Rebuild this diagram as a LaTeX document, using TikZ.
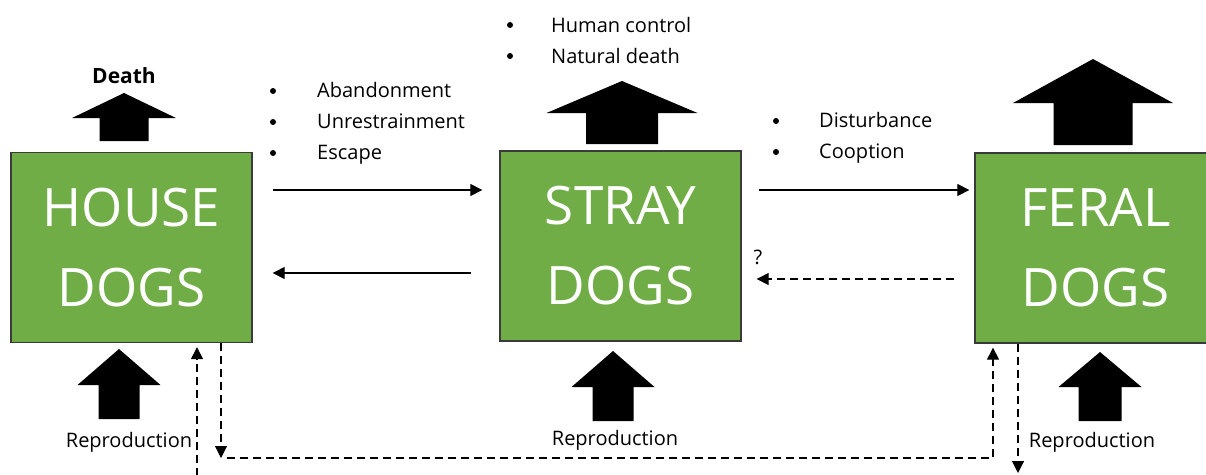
\documentclass[tikz,border=0pt]{standalone}
\usepackage{fontspec}
\setmainfont{Open Sans}
\usetikzlibrary{arrows.meta}
\definecolor{dogGreen}{HTML}{70AD47}
\definecolor{dogEdge}{HTML}{3A3A3A}
\tikzset{
  dogbox/.style={draw=dogEdge, line width=1.3pt, fill=dogGreen, minimum width=241pt,
    minimum height=190pt, inner sep=0pt, text=white, align=center,
    font=\fontsize{53}{80}\selectfont},
  flow/.style={line width=1.1pt, -{Triangle[length=12pt,width=12pt]}},
  dflow/.style={flow, dash pattern=on 8pt off 5pt},
  txt/.style={inner sep=0pt, font=\fontsize{20}{24}\selectfont},
  lbl/.style={txt, anchor=base west},
  bullet/.style={circle, fill=black, inner sep=0pt, minimum size=6pt},
  block/.style={fill=black}
}
% block arrow pointing up: tip x, tip y, wing half-width, wing y, shaft half-width, base y
\newcommand\uparrowblock[6]{%
  \fill[block] (#1,#2) -- (#1+#3,#4) -- (#1+#5,#4) -- (#1+#5,#6)
     -- (#1-#5,#6) -- (#1-#5,#4) -- (#1-#3,#4) -- cycle;}
\begin{document}
\begin{tikzpicture}[x=1pt,y=-1pt]
  \useasboundingbox (0,0) rectangle (1206,474);
  \clip (0,0) rectangle (1206,474);

  % population boxes
  \node[dogbox] (house) at (131.5,247.5) {HOUSE\\DOGS};
  \node[dogbox] (stray) at (620.5,246) {STRAY\\DOGS};
  \node[dogbox] (feral) at (1095.5,248) {FERAL\\DOGS};

  % death (outflow) arrows above the boxes
  \uparrowblock{124}{93}{52}{118}{24.5}{141}
  \uparrowblock{622}{81}{75.5}{113}{36}{144}
  \uparrowblock{1093}{59}{80}{103}{39.5}{145}
  \node[txt, anchor=base, font=\fontsize{21}{24}\selectfont\bfseries]
    (death) at (124,83) {Death};

  % reproduction (inflow) arrows below the boxes
  \uparrowblock{119}{349}{41.5}{385}{20.5}{419}
  \uparrowblock{613}{351}{41.5}{387}{20.5}{421}
  \uparrowblock{1100}{352}{41.5}{387}{21.5}{421}
  \node[txt, anchor=base] (repH) at (129,447) {Reproduction};
  \node[txt, anchor=base] (repS) at (615,445) {Reproduction};
  \node[txt, anchor=base] (repF) at (1092,447) {Reproduction};

  % transition labels
  \node[bullet] (b1) at (273,91) {};
  \node[bullet] (b2) at (273,122) {};
  \node[bullet] (b3) at (273,153) {};
  \node[lbl] (t1) at (317,97) {Abandonment};
  \node[lbl] (t2) at (317,128) {Unrestrainment};
  \node[lbl] (t3) at (317,159) {Escape};

  \node[bullet] (b4) at (510,25) {};
  \node[bullet] (b5) at (510,56) {};
  \node[lbl] (t4) at (551,32) {Human control};
  \node[lbl] (t5) at (551,63) {Natural death};

  \node[bullet] (b6) at (776,121) {};
  \node[bullet] (b7) at (776,152) {};
  \node[lbl] (t6) at (819,127) {Disturbance};
  \node[lbl] (t7) at (819,158) {Cooption};

  \node[txt, anchor=base] (q) at (758,264) {?};

  % transitions between populations
  \coordinate (yA) at (0,190);
  \coordinate (yB) at (0,273);
  \coordinate (yC) at (0,279);
  \draw[flow, shorten <=20pt, shorten >=17pt] (house.east |- yA) -- (stray.west |- yA);
  \draw[flow, shorten <=28pt, shorten >=20pt] (stray.west |- yB) -- (house.east |- yB);
  \draw[flow, shorten <=17pt, shorten >=5pt] (stray.east |- yA) -- (feral.west |- yA);
  \draw[dflow, shorten <=20pt, shorten >=15pt] (feral.west |- yC) -- (stray.east |- yC);

  % dashed links below the boxes
  \coordinate (hOut) at (house.south -| 221,0);
  \coordinate (hDown) at (221,458);
  \coordinate (corner1) at (227,458);
  \coordinate (corner2) at (993,458);
  \coordinate (fIn) at (feral.south -| 993,0);
  \coordinate (fOut) at (feral.south -| 1018,0);
  \coordinate (fDown) at (1018,473);
  \coordinate (hFrom) at (197,476);
  \coordinate (hIn) at (house.south -| 197,0);
  \draw[dflow] (hOut) -- (hDown);
  \draw[dflow, shorten >=4pt] (corner1) -- (corner2) -- (fIn);
  \draw[dflow] (fOut) -- (fDown);
  \draw[dflow, shorten >=4pt] (hFrom) -- (hIn);
\end{tikzpicture}
\end{document}
